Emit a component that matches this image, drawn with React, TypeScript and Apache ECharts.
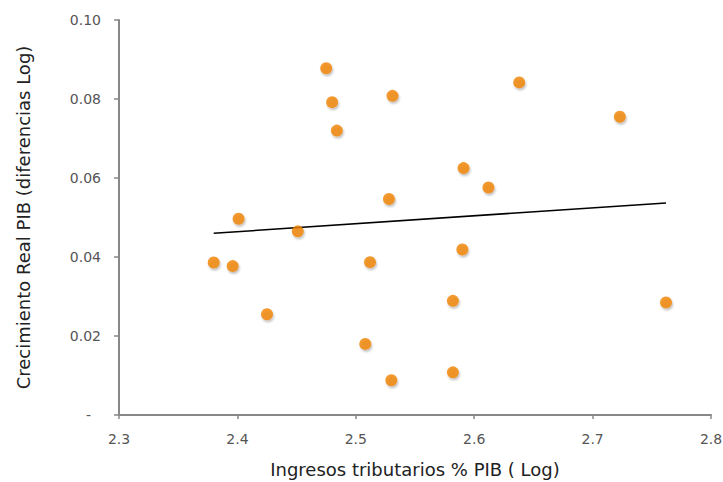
import React, { useEffect, useRef } from "react";
import * as echarts from "echarts";

const xValues = [2.475, 2.48, 2.531, 2.484, 2.591, 2.528, 2.401, 2.451, 2.38, 2.396, 2.512, 2.59, 2.425, 2.582, 2.508, 2.53, 2.582, 2.638, 2.723, 2.612, 2.762];
const yValues = [0.0878, 0.0792, 0.0808, 0.072, 0.0625, 0.0547, 0.0497, 0.0465, 0.0386, 0.0377, 0.0387, 0.0419, 0.0255, 0.0289, 0.018, 0.0088, 0.0108, 0.0842, 0.0755, 0.0576, 0.0285];
const trendX = [2.38, 2.762];
const trendY = [0.046, 0.0537];
const xTitle = "Ingresos tributarios % PIB ( Log)";
const yTitle = "Crecimiento Real PIB (diferencias Log)";

export default function App() {
  const ref = useRef<HTMLDivElement>(null);
  useEffect(() => {
    if (!ref.current) return;
    const chart = echarts.init(ref.current, null, { renderer: "svg" });
    const font = "DejaVu Sans";
    chart.setOption({
      animation: false,
      backgroundColor: "#ffffff",
      grid: { left: 119, right: 12, top: 20, bottom: 67, containLabel: false, outerBoundsMode: "none" },
      xAxis: {
        type: "value",
        min: 2.3,
        max: 2.8,
        interval: 0.1,
        name: xTitle,
        nameLocation: "middle",
        nameGap: 45,
        nameTextStyle: { fontFamily: font, fontSize: 18, color: "#222" },
        axisLine: { show: true, onZero: false, lineStyle: { color: "#888", width: 2 } },
        axisTick: { show: true, length: 4, lineStyle: { color: "#888", width: 1.5 } },
        axisLabel: {
          margin: 17,
          fontFamily: font,
          fontSize: 14,
          color: "#555",
          formatter: (v: number) => v.toFixed(1),
        },
        splitLine: { show: false },
      },
      yAxis: {
        type: "value",
        min: 0,
        max: 0.1,
        interval: 0.02,
        name: yTitle,
        nameLocation: "middle",
        nameGap: 87,
        nameTextStyle: { fontFamily: font, fontSize: 18, color: "#222" },
        axisLine: { show: true, onZero: false, lineStyle: { color: "#888", width: 2 } },
        axisTick: { show: true, length: 5, lineStyle: { color: "#888", width: 1.5 } },
        axisLabel: {
          margin: 18,
          fontFamily: font,
          fontSize: 14,
          color: "#555",
          formatter: (v: number) => (v === 0 ? "{z|-}" : v.toFixed(2)),
          rich: { z: { fontFamily: font, fontSize: 14, color: "#555", padding: [0, 10, 0, 0] } },
        },
        splitLine: { show: false },
      },
      series: [
        {
          type: "line",
          data: trendX.map((x, i) => [x, trendY[i]]),
          symbol: "none",
          lineStyle: { color: "#000", width: 1.5 },
          z: 1,
        },
        {
          type: "scatter",
          data: xValues.map((x, i) => [x, yValues[i]]),
          symbolSize: 12,
          itemStyle: {
            color: "#F08200",
            shadowColor: "rgba(0,0,0,0.3)",
            shadowBlur: 2,
            shadowOffsetX: 1,
            shadowOffsetY: 2,
          },
          z: 2,
        },
      ],
    });
    return () => chart.dispose();
  }, []);
  return (
    <div
      ref={ref}
      style={{ position: "fixed", left: 0, top: 0, width: 723, height: 482 }}
    />
  );
}
